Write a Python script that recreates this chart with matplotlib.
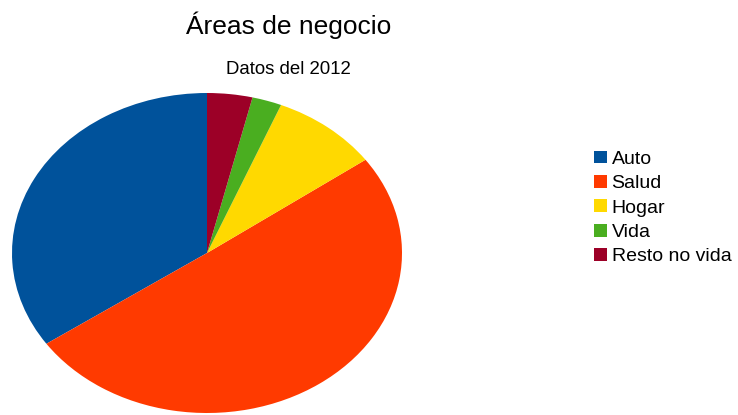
import matplotlib.pyplot as plt

# --- data ---
labels = ['Auto', 'Salud', 'Hogar', 'Vida', 'Resto no vida']
values = [34.6, 50.3, 8.9, 2.45, 3.75]
colors = ['#00529b', '#ff3a00', '#ffd900', '#4aae20', '#9c0027']

plt.rcParams['font.family'] = ['Liberation Sans', 'DejaVu Sans']

fig = plt.figure(figsize=(7.38, 4.15), dpi=100)
W, H = 738, 415

# pie area is stretched into an ellipse like the original
ax = fig.add_axes([12 / W, 2 / H, 390 / W, 320 / H])
wedges, _ = ax.pie(values, colors=colors, startangle=90, counterclock=True,
                   wedgeprops=dict(linewidth=0))
ax.set_aspect('auto')
ax.set_xlim(-1, 1)
ax.set_ylim(-1, 1)
ax.axis('off')

fig.text(289 / W, 1 - 25 / H, 'Áreas de negocio', ha='center', va='center', fontsize=19)
fig.text(288 / W, 1 - 70 / H, 'Datos del 2012', ha='center', va='center', fontsize=13.4)

fig.legend(wedges, labels, loc='center left', bbox_to_anchor=(594 / W, 1 - 208 / H),
           frameon=False, fontsize=14, handlelength=0.68, handleheight=0.63,
           handletextpad=0.22, labelspacing=0.37, borderpad=0, borderaxespad=0)

fig.savefig('out.png', dpi=100)
